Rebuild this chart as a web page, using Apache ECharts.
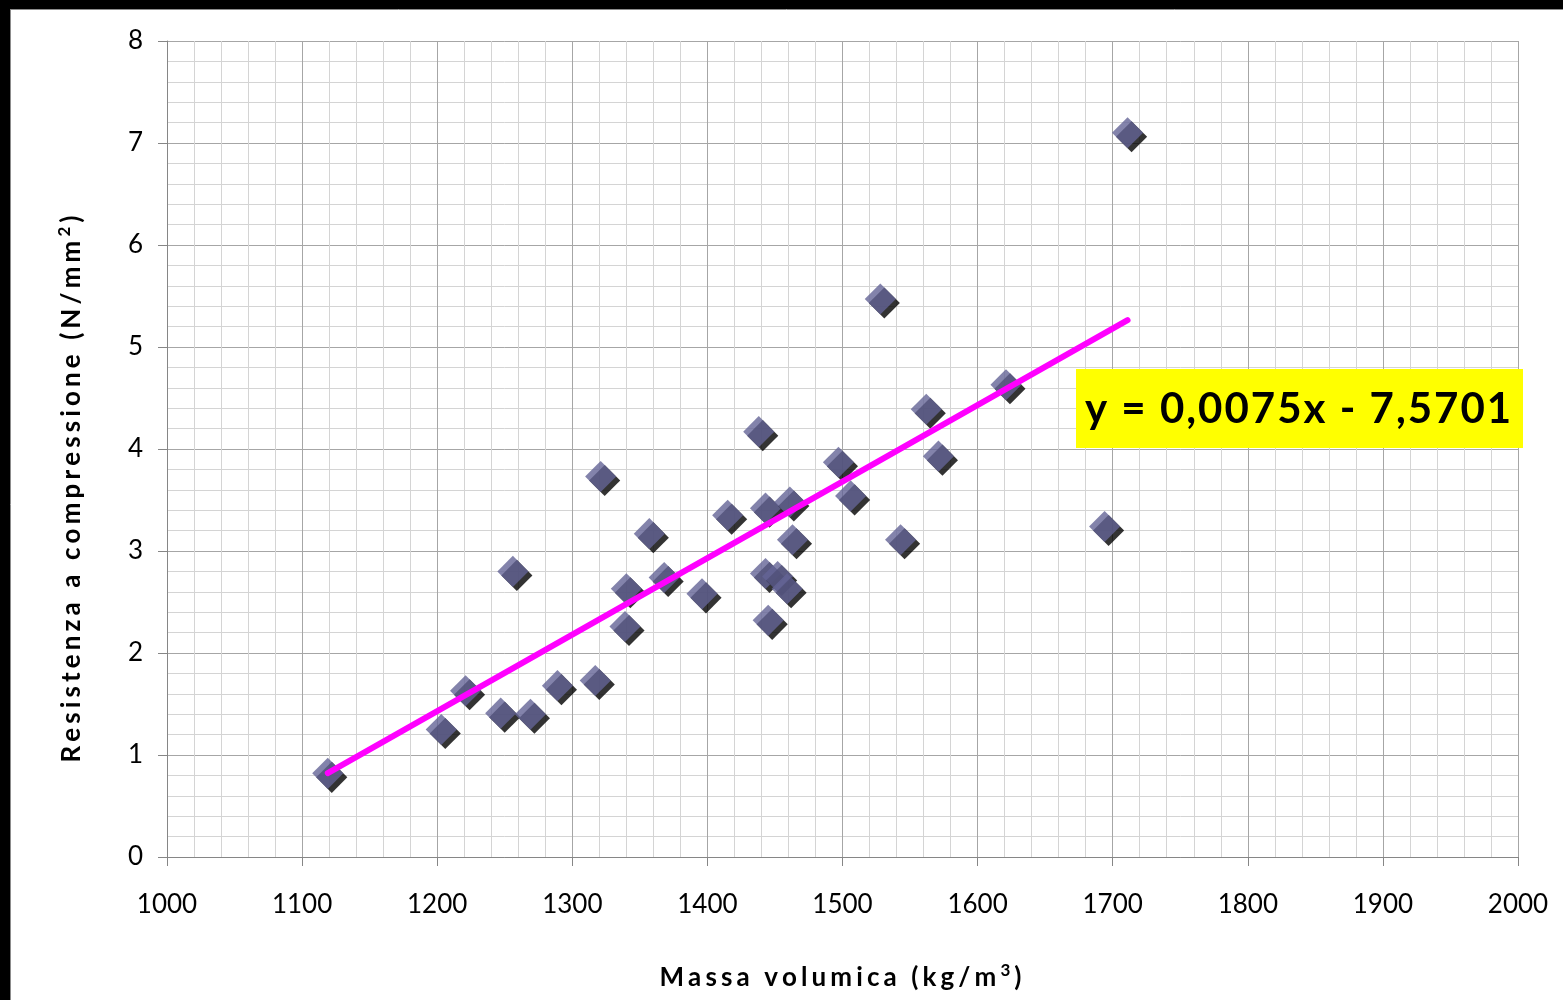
<!DOCTYPE html>
<html>
<head>
<meta charset="utf-8">
<script src="https://cdn.jsdelivr.net/npm/echarts@6/dist/echarts.min.js"></script>
<style>
  html, body { margin: 0; padding: 0; background: #fff; }
  #main { width: 1563px; height: 1000px; }
</style>
</head>
<body>
<div id="main"></div>
<script>
// massa volumica (kg/m3)
const density = [1119, 1203, 1221, 1247, 1256, 1269, 1289, 1317, 1321, 1340, 1339, 1357,
  1368, 1396, 1415, 1438, 1443, 1443, 1445, 1452, 1459, 1461, 1463, 1497, 1506, 1528,
  1543, 1562, 1571, 1621, 1694, 1711]
// resistenza a compressione (N/mm2)
const strength = [0.82, 1.25, 1.63, 1.41, 2.80, 1.40, 1.68, 1.73, 3.73, 2.63, 2.26, 3.17,
  2.74, 2.58, 3.35, 4.17, 3.42, 2.78, 2.32, 2.75, 2.63, 3.48, 3.11, 3.87, 3.54, 5.47,
  3.11, 4.39, 3.93, 4.63, 3.24, 7.10]

// linea di tendenza
const slope = 0.0075
const intercept = -7.5701
const trendLabel = 'y = 0,0075x - 7,5701'

const xTitle = 'Massa volumica (kg/m'
const yTitle = 'Resistenza a compressione (N/mm'

const points = density.map((d, i) => [d, strength[i]])
const xMin = Math.min(...density)
const xMax = Math.max(...density)
const trend = [[xMin, slope * xMin + intercept], [xMax, slope * xMax + intercept]]

const font = 'Lato, "Open Sans", sans-serif'

// spaziatura tra le lettere con rich text
function spaced(str, key) {
  return str.split('').map(c => `{${key}|${c}}`).join('')
}

const titleRich = {
  s: { fontFamily: font, fontSize: 26, fontWeight: 'bold', color: '#000', padding: [0, 4.1, 0, 0] },
  sup: { fontFamily: font, fontSize: 17, fontWeight: 'bold', color: '#000', padding: [0, 4, 14, 0] }
}

let myChart = echarts.init(document.getElementById('main'))

myChart.setOption({
  animation: false,
  backgroundColor: '#fff',
  grid: { left: 167, right: 45, top: 41, bottom: 143 },
  xAxis: {
    type: 'value',
    min: 1000,
    max: 2000,
    interval: 100,
    name: spaced(xTitle, 's') + '{sup|3}{s|)}',
    nameLocation: 'middle',
    nameGap: 105,
    nameTextStyle: { rich: titleRich },
    axisLine: { lineStyle: { color: '#868686', width: 1 } },
    axisTick: { show: true, length: 9, lineStyle: { color: '#868686' } },
    axisLabel: { fontFamily: font, fontSize: 26, color: '#000', margin: 35, formatter: v => String(v) },
    splitLine: { show: true, lineStyle: { color: '#a6a6a6', width: 1 } },
    minorTick: { show: false, splitNumber: 5 },
    minorSplitLine: { show: true, lineStyle: { color: '#d4d4d4', width: 1 } }
  },
  yAxis: {
    type: 'value',
    min: 0,
    max: 8,
    interval: 1,
    name: spaced(yTitle, 's') + '{sup|2}{s|)}',
    nameLocation: 'middle',
    nameGap: 80,
    nameRotate: 90,
    nameTextStyle: { rich: titleRich, padding: [0, 76, 0, 0] },
    axisLine: { show: true, lineStyle: { color: '#868686', width: 1 } },
    axisTick: { show: true, length: 9, lineStyle: { color: '#868686' } },
    axisLabel: { fontFamily: font, fontSize: 26, color: '#000', margin: 24 },
    splitLine: { show: true, lineStyle: { color: '#a6a6a6', width: 1 } },
    minorTick: { show: false, splitNumber: 5 },
    minorSplitLine: { show: true, lineStyle: { color: '#d4d4d4', width: 1 } }
  },
  graphic: [
    { type: 'rect', shape: { x: 0, y: 0, width: 1563, height: 9 }, style: { fill: '#000' }, z: 100 },
    { type: 'rect', shape: { x: 0, y: 0, width: 10, height: 1000 }, style: { fill: '#000' }, z: 100 },
    { type: 'line', shape: { x1: 10, y1: 9.5, x2: 1563, y2: 9.5 }, style: { stroke: '#8c8c8c', lineWidth: 1 }, z: 100 },
    { type: 'line', shape: { x1: 10.5, y1: 9, x2: 10.5, y2: 1000 }, style: { stroke: '#8c8c8c', lineWidth: 1 }, z: 100 },
    { type: 'rect', shape: { x: 1076, y: 369, width: 447, height: 79 }, style: { fill: '#ffff00' }, z: 100 },
    {
      type: 'text',
      x: 1085,
      y: 409,
      z: 101,
      style: {
        text: spaced(trendLabel, 'e'),
        verticalAlign: 'middle',
        rich: {
          e: { fontFamily: font, fontSize: 42, fontWeight: 'bold', fill: '#000', padding: [0, 2.0, 0, 0] }
        }
      }
    }
  ],
  series: [
    {
      type: 'scatter',
      data: points,
      symbol: 'rect',
      symbolSize: 22,
      symbolRotate: 45,
      itemStyle: {
        color: '#646496',
        shadowColor: '#000',
        shadowBlur: 0,
        shadowOffsetX: 4,
        shadowOffsetY: 4
      },
      z: 2
    },
    {
      type: 'line',
      data: trend,
      showSymbol: false,
      symbol: 'none',
      lineStyle: { color: '#ff00ff', width: 6, cap: 'round' },
      z: 3
    }
  ]
})
</script>
</body>
</html>
